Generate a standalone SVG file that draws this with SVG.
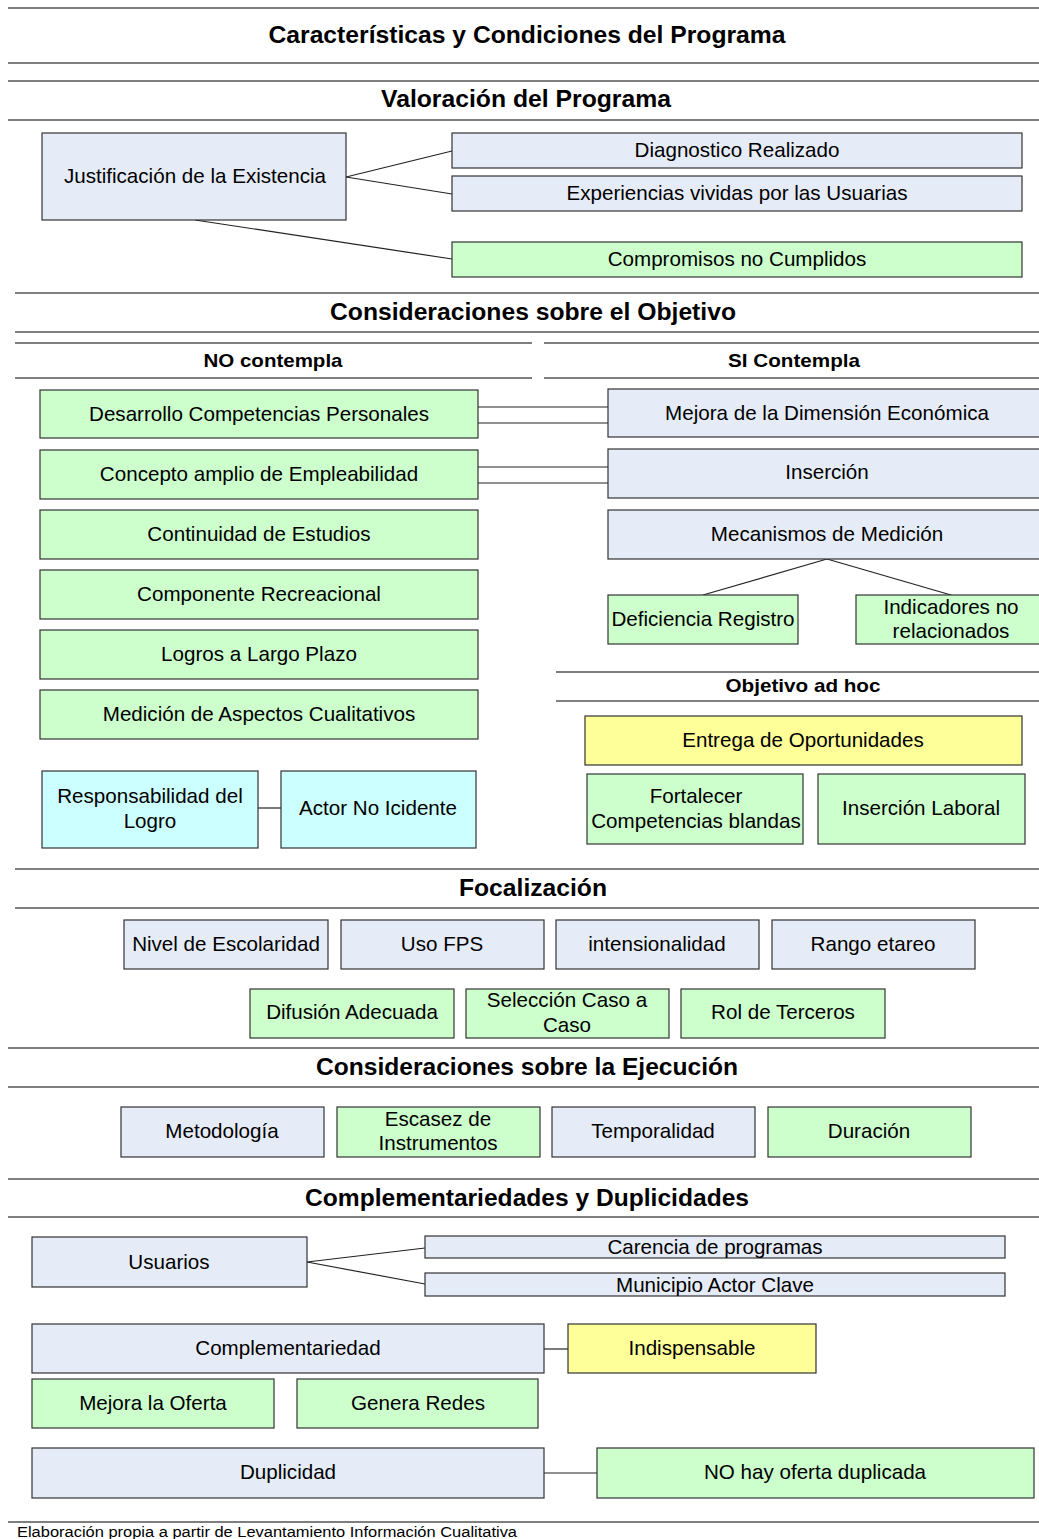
<svg xmlns="http://www.w3.org/2000/svg" width="1039" height="1539" viewBox="0 0 1039 1539">
<style>
.rule{stroke:#7f7f7f;stroke-width:2;fill:none}
.conn line{stroke:#222;stroke-width:1.2}
.n rect{stroke:#333;stroke-width:1.2}
.b{fill:#e6ecf7}
.g{fill:#ccffcc}
.y{fill:#ffff99}
.c{fill:#ccffff}
text{font-family:"Liberation Sans",Arial,sans-serif;fill:#000;text-anchor:middle}
.t{font-size:20.6px}
.h{font-weight:bold;font-size:23px}
.s{font-weight:bold;font-size:19px}
.f{font-size:14px;text-anchor:start}
</style>
<rect x="0" y="0" width="1039" height="1539" fill="#ffffff"/>
<g id="rules">
<line class="rule" x1="8" y1="8" x2="1039" y2="8"/>
<line class="rule" x1="8" y1="63" x2="1039" y2="63"/>
<line class="rule" x1="8" y1="81" x2="1039" y2="81"/>
<line class="rule" x1="8" y1="120" x2="1039" y2="120"/>
<line class="rule" x1="15" y1="293" x2="1039" y2="293"/>
<line class="rule" x1="15" y1="332" x2="1039" y2="332"/>
<line class="rule" x1="15" y1="343" x2="532" y2="343"/>
<line class="rule" x1="15" y1="378" x2="532" y2="378"/>
<line class="rule" x1="544" y1="343" x2="1039" y2="343"/>
<line class="rule" x1="544" y1="378" x2="1039" y2="378"/>
<line class="rule" x1="556" y1="672" x2="1039" y2="672"/>
<line class="rule" x1="556" y1="701" x2="1039" y2="701"/>
<line class="rule" x1="15" y1="869" x2="1039" y2="869"/>
<line class="rule" x1="15" y1="908" x2="1039" y2="908"/>
<line class="rule" x1="8" y1="1048" x2="1039" y2="1048"/>
<line class="rule" x1="8" y1="1087" x2="1039" y2="1087"/>
<line class="rule" x1="8" y1="1179" x2="1039" y2="1179"/>
<line class="rule" x1="8" y1="1217" x2="1039" y2="1217"/>
<line class="rule" x1="8" y1="1522" x2="1039" y2="1522"/>
</g>
<g id="titles">
<text class="h" x="527" y="43" textLength="517" lengthAdjust="spacingAndGlyphs">Características y Condiciones del Programa</text>
<text class="h" x="526" y="107" textLength="290" lengthAdjust="spacingAndGlyphs">Valoración del Programa</text>
<text class="h" x="533" y="320" textLength="406" lengthAdjust="spacingAndGlyphs">Consideraciones sobre el Objetivo</text>
<text class="s" x="273" y="367" textLength="139" lengthAdjust="spacingAndGlyphs">NO contempla</text>
<text class="s" x="794" y="367" textLength="132" lengthAdjust="spacingAndGlyphs">SI Contempla</text>
<text class="s" x="803" y="692" textLength="155" lengthAdjust="spacingAndGlyphs">Objetivo ad hoc</text>
<text class="h" x="533" y="896" textLength="148" lengthAdjust="spacingAndGlyphs">Focalización</text>
<text class="h" x="527" y="1075" textLength="422" lengthAdjust="spacingAndGlyphs">Consideraciones sobre la Ejecución</text>
<text class="h" x="527" y="1206" textLength="444" lengthAdjust="spacingAndGlyphs">Complementariedades y Duplicidades</text>
<text class="f" x="17" y="1537" textLength="500" lengthAdjust="spacingAndGlyphs">Elaboración propia a partir de Levantamiento Información Cualitativa</text>
</g>
<g id="connectors" class="conn">
<line x1="346" y1="177" x2="452" y2="151"/>
<line x1="346" y1="177" x2="452" y2="194"/>
<line x1="195" y1="220" x2="452" y2="259"/>
<line x1="478" y1="407" x2="608" y2="407"/>
<line x1="478" y1="423" x2="608" y2="423"/>
<line x1="478" y1="467" x2="611" y2="467"/>
<line x1="478" y1="483" x2="611" y2="483"/>
<line x1="827" y1="559" x2="703" y2="595"/>
<line x1="827" y1="559" x2="951" y2="595"/>
<line x1="258" y1="808" x2="281" y2="808"/>
<line x1="307" y1="1262" x2="425" y2="1248"/>
<line x1="307" y1="1262" x2="425" y2="1284"/>
<line x1="544" y1="1349" x2="568" y2="1349"/>
<line x1="544" y1="1473" x2="597" y2="1473"/>
</g>
<g class="n">
<g id="n-justificacion"><rect class="b" x="42" y="133" width="304" height="87"/><text class="t" x="195" y="183">Justificación de la Existencia</text></g>
<g id="n-diagnostico"><rect class="b" x="452" y="133" width="570" height="35"/><text class="t" x="737" y="157">Diagnostico Realizado</text></g>
<g id="n-experiencias"><rect class="b" x="452" y="176" width="570" height="35"/><text class="t" x="737" y="200">Experiencias vividas por las Usuarias</text></g>
<g id="n-compromisos"><rect class="g" x="452" y="242" width="570" height="35"/><text class="t" x="737" y="266">Compromisos no Cumplidos</text></g>

<g id="n-desarrollo"><rect class="g" x="40" y="390" width="438" height="48"/><text class="t" x="259" y="421">Desarrollo Competencias Personales</text></g>
<g id="n-concepto"><rect class="g" x="40" y="450" width="438" height="49"/><text class="t" x="259" y="481">Concepto amplio de Empleabilidad</text></g>
<g id="n-continuidad"><rect class="g" x="40" y="510" width="438" height="49"/><text class="t" x="259" y="541">Continuidad de Estudios</text></g>
<g id="n-componente"><rect class="g" x="40" y="570" width="438" height="49"/><text class="t" x="259" y="601">Componente Recreacional</text></g>
<g id="n-logros"><rect class="g" x="40" y="630" width="438" height="49"/><text class="t" x="259" y="661">Logros a Largo Plazo</text></g>
<g id="n-medicion"><rect class="g" x="40" y="690" width="438" height="49"/><text class="t" x="259" y="721">Medición de Aspectos Cualitativos</text></g>

<g id="n-mejora"><rect class="b" x="608" y="389" width="440" height="48"/><text class="t" x="827" y="420">Mejora de la Dimensión Económica</text></g>
<g id="n-insercion"><rect class="b" x="608" y="449" width="440" height="49"/><text class="t" x="827" y="479">Inserción</text></g>
<g id="n-mecanismos"><rect class="b" x="608" y="510" width="440" height="49"/><text class="t" x="827" y="541">Mecanismos de Medición</text></g>
<g id="n-deficiencia"><rect class="g" x="608" y="595" width="190" height="49"/><text class="t" x="703" y="626">Deficiencia Registro</text></g>
<g id="n-indicadores"><rect class="g" x="856" y="595" width="192" height="49"/><text class="t" x="951" y="614">Indicadores no</text><text class="t" x="951" y="638">relacionados</text></g>

<g id="n-entrega"><rect class="y" x="585" y="716" width="437" height="49"/><text class="t" x="803" y="747">Entrega de Oportunidades</text></g>
<g id="n-fortalecer"><rect class="g" x="587" y="774" width="216" height="70"/><text class="t" x="696" y="803">Fortalecer</text><text class="t" x="696" y="828">Competencias blandas</text></g>
<g id="n-insercion-laboral"><rect class="g" x="818" y="774" width="207" height="70"/><text class="t" x="921" y="815">Inserción Laboral</text></g>

<g id="n-responsabilidad"><rect class="c" x="42" y="771" width="216" height="77"/><text class="t" x="150" y="803">Responsabilidad del</text><text class="t" x="150" y="828">Logro</text></g>
<g id="n-actor"><rect class="c" x="281" y="771" width="195" height="77"/><text class="t" x="378" y="815">Actor No Icidente</text></g>

<g id="n-nivel"><rect class="b" x="124" y="920" width="204" height="49"/><text class="t" x="226" y="951">Nivel de Escolaridad</text></g>
<g id="n-fps"><rect class="b" x="341" y="920" width="203" height="49"/><text class="t" x="442" y="951">Uso FPS</text></g>
<g id="n-intensionalidad"><rect class="b" x="556" y="920" width="203" height="49"/><text class="t" x="657" y="951">intensionalidad</text></g>
<g id="n-rango"><rect class="b" x="772" y="920" width="203" height="49"/><text class="t" x="873" y="951">Rango etareo</text></g>
<g id="n-difusion"><rect class="g" x="250" y="989" width="204" height="49"/><text class="t" x="352" y="1019">Difusión Adecuada</text></g>
<g id="n-seleccion"><rect class="g" x="466" y="989" width="203" height="49"/><text class="t" x="567" y="1007">Selección Caso a</text><text class="t" x="567" y="1032">Caso</text></g>
<g id="n-rol"><rect class="g" x="681" y="989" width="204" height="49"/><text class="t" x="783" y="1019">Rol de Terceros</text></g>

<g id="n-metodologia"><rect class="b" x="121" y="1107" width="203" height="50"/><text class="t" x="222" y="1138">Metodología</text></g>
<g id="n-escasez"><rect class="g" x="337" y="1107" width="203" height="50"/><text class="t" x="438" y="1126">Escasez de</text><text class="t" x="438" y="1150">Instrumentos</text></g>
<g id="n-temporalidad"><rect class="b" x="552" y="1107" width="203" height="50"/><text class="t" x="653" y="1138">Temporalidad</text></g>
<g id="n-duracion"><rect class="g" x="768" y="1107" width="203" height="50"/><text class="t" x="869" y="1138">Duración</text></g>

<g id="n-usuarios"><rect class="b" x="32" y="1237" width="275" height="50"/><text class="t" x="169" y="1269">Usuarios</text></g>
<g id="n-carencia"><rect class="b" x="425" y="1236" width="580" height="22"/><text class="t" x="715" y="1254">Carencia de programas</text></g>
<g id="n-municipio"><rect class="b" x="425" y="1273" width="580" height="23"/><text class="t" x="715" y="1292">Municipio Actor Clave</text></g>
<g id="n-complementariedad"><rect class="b" x="32" y="1324" width="512" height="49"/><text class="t" x="288" y="1355">Complementariedad</text></g>
<g id="n-indispensable"><rect class="y" x="568" y="1324" width="248" height="49"/><text class="t" x="692" y="1355">Indispensable</text></g>
<g id="n-mejora-oferta"><rect class="g" x="32" y="1379" width="242" height="49"/><text class="t" x="153" y="1410">Mejora la Oferta</text></g>
<g id="n-redes"><rect class="g" x="297" y="1379" width="241" height="49"/><text class="t" x="418" y="1410">Genera Redes</text></g>
<g id="n-duplicidad"><rect class="b" x="32" y="1448" width="512" height="50"/><text class="t" x="288" y="1479">Duplicidad</text></g>
<g id="n-no-oferta"><rect class="g" x="597" y="1448" width="437" height="50"/><text class="t" x="815" y="1479">NO hay oferta duplicada</text></g>
</g>
</svg>
